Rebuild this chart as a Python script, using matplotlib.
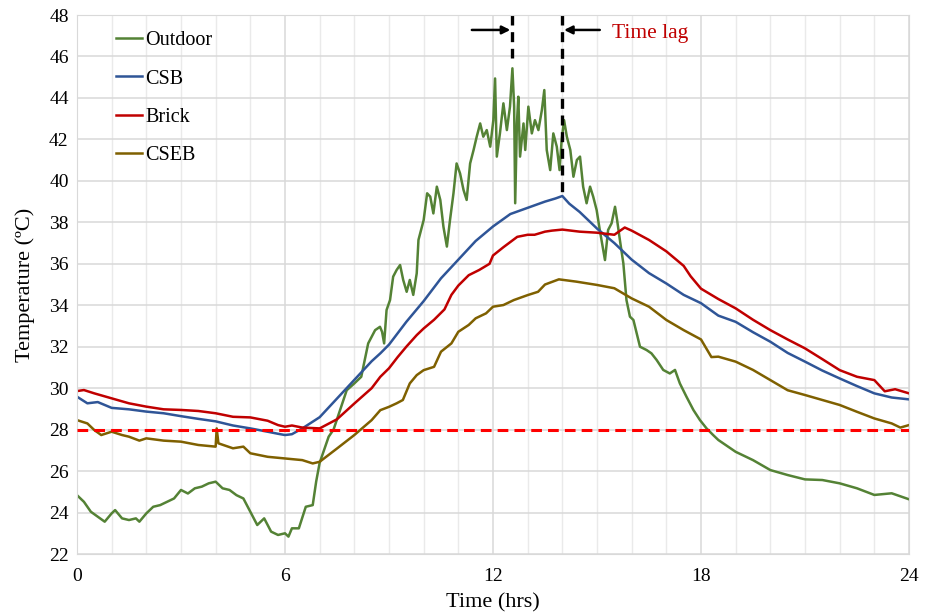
import matplotlib
matplotlib.use("Agg")
import matplotlib.pyplot as plt
from matplotlib.ticker import MultipleLocator

plt.rcParams['font.family'] = ['Liberation Serif', 'DejaVu Serif']

# values (hours, deg C)
t_csb = [0, 0.3, 0.6, 1.0, 1.5, 2.0, 2.5, 3.0, 3.5, 4.0, 4.5, 5.0, 5.5, 5.8, 6.0, 6.2, 6.5,
         7.0, 7.5, 8.0, 8.5, 8.75, 9.0, 9.5, 10.0, 10.5, 11.0, 11.5, 12.0, 12.5, 13.0, 13.5,
         13.8, 14.0, 14.2, 14.5, 15.0, 15.5, 16.0, 16.5, 17.0, 17.5, 18.0, 18.5, 19.0, 19.5,
         20.0, 20.5, 21.0, 21.5, 22.0, 22.5, 23.0, 23.5, 24.0]
csb = [29.59, 29.27, 29.33, 29.05, 28.98, 28.87, 28.79, 28.65, 28.52, 28.40, 28.2, 28.06,
       27.9, 27.8, 27.74, 27.78, 28.06, 28.6, 29.5, 30.4, 31.3, 31.68, 32.1, 33.2, 34.2, 35.3,
       36.2, 37.1, 37.8, 38.4, 38.7, 39.0, 39.15, 39.27, 38.9, 38.5, 37.7, 37.0, 36.2, 35.55,
       35.05, 34.5, 34.1, 33.5, 33.2, 32.7, 32.24, 31.7, 31.28, 30.85, 30.47, 30.1, 29.75,
       29.55, 29.46]

t_brick = [0, 0.2, 0.5, 1.0, 1.5, 2.0, 2.5, 3.0, 3.5, 4.0, 4.5, 5.0, 5.5, 5.8, 6.0, 6.2, 6.5,
           7.0, 7.5, 8.0, 8.5, 8.75, 9.0, 9.25, 9.5, 9.8, 10.0, 10.3, 10.6, 10.8, 11.0, 11.3,
           11.6, 11.9, 12.0, 12.3, 12.7, 13.0, 13.2, 13.5, 13.7, 14.0, 14.5, 15.0, 15.5, 15.8,
           16.0, 16.5, 17.0, 17.5, 17.7, 18.0, 18.5, 19.0, 19.5, 20.0, 20.5, 21.0, 21.5, 22.0,
           22.5, 23.0, 23.3, 23.6, 24.0]
brick = [29.86, 29.91, 29.75, 29.51, 29.27, 29.11, 28.98, 28.95, 28.9, 28.79, 28.62, 28.59,
         28.43, 28.22, 28.14, 28.2, 28.1, 28.06, 28.5, 29.26, 30.0, 30.55, 30.96, 31.5, 32.0,
         32.56, 32.88, 33.3, 33.8, 34.5, 34.95, 35.45, 35.7, 36.0, 36.4, 36.8, 37.3, 37.4,
         37.4, 37.55, 37.6, 37.65, 37.55, 37.5, 37.4, 37.75, 37.6, 37.15, 36.6, 35.9, 35.4,
         34.8, 34.3, 33.85, 33.3, 32.8, 32.35, 31.92, 31.4, 30.87, 30.55, 30.39, 29.85, 29.95,
         29.75]

t_cseb = [0, 0.15, 0.3, 0.5, 0.7, 1.0, 1.3, 1.5, 1.8, 2.0, 2.5, 3.0, 3.5, 4.0, 4.03, 4.08,
          4.5, 4.8, 5.0, 5.5, 6.0, 6.5, 6.8, 7.0, 7.5, 8.0, 8.5, 8.75, 9.0, 9.22, 9.4, 9.6,
          9.8, 10.0, 10.3, 10.5, 10.8, 11.0, 11.3, 11.5, 11.8, 12.0, 12.3, 12.6, 13.0, 13.3,
          13.5, 13.9, 14.4, 15.0, 15.5, 16.0, 16.5, 17.0, 17.5, 18.0, 18.3, 18.5, 19.0, 19.5,
          20.0, 20.5, 21.0, 21.5, 22.0, 22.5, 23.0, 23.5, 23.75, 24.0]
cseb = [28.46, 28.38, 28.3, 27.98, 27.74, 27.9, 27.74, 27.66, 27.47, 27.58, 27.47, 27.42,
        27.26, 27.18, 28.06, 27.34, 27.1, 27.18, 26.86, 26.69, 26.61, 26.53, 26.37, 26.45,
        27.09, 27.74, 28.46, 28.94, 29.1, 29.27, 29.43, 30.23, 30.63, 30.87, 31.03, 31.76,
        32.16, 32.72, 33.05, 33.37, 33.61, 33.93, 34.01, 34.25, 34.49, 34.65, 35.0, 35.25,
        35.14, 34.98, 34.82, 34.33, 33.93, 33.29, 32.8, 32.35, 31.5, 31.52, 31.28, 30.88,
        30.39, 29.9, 29.67, 29.43, 29.19, 28.86, 28.54, 28.3, 28.1, 28.22]

t_out = [0, 0.2, 0.4, 0.6, 0.8, 1.0, 1.1, 1.3, 1.5, 1.7, 1.8, 2.0, 2.2, 2.4, 2.6, 2.8, 3.0,
         3.2, 3.4, 3.6, 3.8, 4.0, 4.2, 4.4, 4.6, 4.8, 5.0, 5.2, 5.4, 5.6, 5.8, 6.0, 6.1, 6.2,
         6.4, 6.6, 6.8, 6.9, 7.0, 7.26, 7.4, 7.6, 7.78, 8.0, 8.2, 8.4, 8.6, 8.74, 8.8, 8.86,
         8.93, 9.03, 9.12, 9.22, 9.32, 9.41, 9.51, 9.6, 9.7, 9.8, 9.85, 9.9, 10.0, 10.1,
         10.19, 10.28, 10.38, 10.48, 10.57, 10.67, 10.76, 10.86, 10.95, 11.05, 11.15, 11.24,
         11.34, 11.44, 11.53, 11.63, 11.72, 11.82, 11.92, 12.01, 12.06, 12.11, 12.2, 12.3,
         12.4, 12.49, 12.56, 12.61, 12.64, 12.69, 12.73, 12.78, 12.88, 12.93, 13.02, 13.12,
         13.21, 13.31, 13.41, 13.48, 13.55, 13.65, 13.74, 13.84, 13.92, 13.98, 14.05, 14.13,
         14.23, 14.32, 14.42, 14.51, 14.6, 14.7, 14.8, 14.89, 14.99, 15.08, 15.23, 15.32,
         15.42, 15.52, 15.58, 15.66, 15.76, 15.85, 15.95, 16.05, 16.24, 16.43, 16.57, 16.72,
         16.91, 17.1, 17.25, 17.39, 17.58, 17.78, 17.97, 18.16, 18.35, 18.5, 19.0, 19.5,
         20.0, 20.5, 21.0, 21.5, 22.0, 22.5, 23.0, 23.5, 24.0]
outdoor = [24.84, 24.52, 24.04, 23.8, 23.56, 23.96, 24.12, 23.72, 23.64, 23.72, 23.56, 23.96,
           24.28, 24.36, 24.52, 24.68, 25.09, 24.92, 25.17, 25.25, 25.41, 25.49, 25.17, 25.09,
           24.84, 24.68, 24.04, 23.4, 23.72, 23.08, 22.92, 23.0, 22.84, 23.24, 23.24, 24.28,
           24.36, 25.5, 26.4, 27.66, 28.0, 29.0, 29.9, 30.23, 30.55, 32.16, 32.8, 32.96, 32.72,
           32.16, 33.77, 34.25, 35.38, 35.7, 35.94, 35.22, 34.65, 35.22, 34.5, 35.54, 37.15,
           37.47, 38.11, 39.40, 39.24, 38.43, 39.72, 39.08, 37.79, 36.83, 38.11, 39.40, 40.84,
           40.36, 39.56, 39.08, 40.84, 41.49, 42.13, 42.77, 42.13, 42.45, 41.65, 42.93, 44.94,
           41.17, 42.29, 43.74, 42.45, 43.58, 45.43, 43.58, 38.92, 42.77, 44.06, 41.17, 42.77,
           41.49, 43.58, 42.29, 42.93, 42.45, 43.42, 44.38, 41.49, 40.52, 42.29, 41.65, 40.52,
           41.97, 42.93, 42.13, 41.49, 40.20, 41.01, 41.17, 39.72, 38.92, 39.72, 39.24, 38.59,
           37.63, 36.18, 37.63, 37.95, 38.75, 38.11, 37.15, 36.02, 34.25, 33.45, 33.29, 32.0,
           31.84, 31.68, 31.36, 30.88, 30.71, 30.88, 30.23, 29.59, 28.95, 28.46, 28.06, 27.74,
           27.5, 26.93, 26.53, 26.05, 25.81, 25.6, 25.57, 25.41, 25.17, 24.85, 24.93, 24.64]

comfort_limit = 28
lag_times = [12.55, 14.0]
lag_tops = [45.95, 39.3]

fig = plt.figure(figsize=(9.33, 6.13), dpi=100)
ax = fig.add_axes([0.0825, 0.0962, 0.8918, 0.8793])

ax.plot(t_out, outdoor, color='#548235', lw=1.8, label='Outdoor')
ax.plot(t_csb, csb, color='#2F5597', lw=1.8, label='CSB')
ax.plot(t_brick, brick, color='#C00000', lw=1.8, label='Brick')
ax.plot(t_cseb, cseb, color='#7F6000', lw=1.8, label='CSEB')
ax.axhline(comfort_limit, color='#FF0000', lw=2.2, ls=(0, (3.5, 2)), zorder=3)

for x, top in zip(lag_times, lag_tops):
    ax.plot([x, x], [48, top], color='black', lw=2.4, ls=(0, (3, 2)), clip_on=False)
ax.annotate('', xy=(lag_times[0] - 0.05, 47.28), xytext=(11.39, 47.28),
            arrowprops=dict(arrowstyle='-|>', color='black', lw=1.8, mutation_scale=12,
                            shrinkA=0, shrinkB=0))
ax.annotate('', xy=(lag_times[1] + 0.05, 47.28), xytext=(15.08, 47.28),
            arrowprops=dict(arrowstyle='-|>', color='black', lw=1.8, mutation_scale=12,
                            shrinkA=0, shrinkB=0))
ax.text(15.43, 47.1, 'Time lag', color='#C00000', fontsize=15.5, va='center', ha='left')

ax.set_xlim(0, 24)
ax.set_ylim(22, 48)
ax.xaxis.set_major_locator(MultipleLocator(6))
ax.xaxis.set_minor_locator(MultipleLocator(1))
ax.yaxis.set_major_locator(MultipleLocator(2))
ax.grid(which='major', color='#D9D9D9', lw=1.1)
ax.grid(which='minor', axis='x', color='#EAEAEA', lw=1.0)
ax.set_axisbelow(True)
ax.tick_params(which='both', length=0, labelsize=14)
ax.tick_params(axis='x', pad=10)
ax.tick_params(axis='y', pad=6)
for s in ax.spines.values():
    s.set_color('#D9D9D9')
ax.set_xlabel('Time (hrs)', fontsize=16, labelpad=6)
ax.set_ylabel('Temperature (ºC)', fontsize=16, labelpad=10)

ax.legend(loc='upper left', bbox_to_anchor=(0.047, 0.97), frameon=False, fontsize=14.5,
          handlelength=1.3, handletextpad=0.15, labelspacing=0.95, borderaxespad=0, borderpad=0)

fig.savefig('out.png', dpi=100)
